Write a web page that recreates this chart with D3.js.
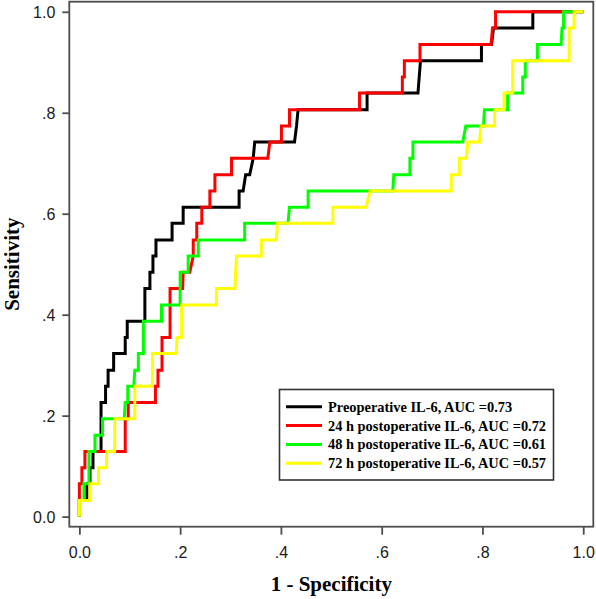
<!DOCTYPE html>
<html>
<head>
<meta charset="utf-8">
<script src="https://cdn.jsdelivr.net/npm/d3@7"></script>
<style>
  html, body { margin: 0; padding: 0; background: #fff; }
  svg { display: block; }
</style>
</head>
<body>
<div id="chart"></div>
<script>
// ---- data ----
const seriesNames = [
  "Preoperative IL-6, AUC =0.73",
  "24 h postoperative IL-6, AUC =0.72",
  "48 h postoperative IL-6, AUC =0.61",
  "72 h postoperative IL-6, AUC =0.57"
];
const seriesColors = ["#000000", "#ff0000", "#00ff00", "#ffff00"];

const preopFpr = [0,0,.015,.015,.021,.021,.027,.027,.043,.043,.052,.052,.057,.057,.068,.068,.091,.091,.095,.095,.130,.130,.140,.140,.146,.146,.152,.152,.184,.184,.206,.206,.317,.317,.325,.330,.338,.345,.348,.427,.431,.434,.571,.571,.672,.677,.798,.798,.818,.822,.900,.900,1];
const preopTpr = [0,.032,.032,.065,.065,.097,.097,.129,.129,.226,.226,.258,.258,.290,.290,.323,.323,.355,.355,.387,.387,.452,.452,.484,.484,.516,.516,.548,.548,.581,.581,.613,.613,.645,.645,.677,.677,.710,.742,.742,.774,.806,.806,.839,.839,.903,.903,.935,.935,.968,.968,1,1];

const h24Fpr = [0,0,.005,.005,.011,.011,.091,.091,.097,.097,.151,.151,.156,.156,.164,.164,.180,.180,.205,.206,.219,.226,.226,.233,.233,.243,.243,.259,.259,.269,.269,.302,.302,.374,.378,.401,.401,.417,.417,.556,.556,.641,.641,.645,.645,.676,.676,.817,.820,.826,.826,1];
const h24Tpr = [0,.065,.065,.097,.097,.129,.129,.194,.194,.226,.226,.258,.258,.290,.290,.355,.355,.452,.452,.484,.484,.516,.548,.548,.581,.581,.613,.613,.645,.645,.677,.677,.710,.710,.742,.742,.774,.774,.806,.806,.839,.839,.871,.871,.903,.903,.935,.935,.968,.968,1,1];

const h48Fpr = [0,0,.009,.009,.019,.019,.031,.031,.046,.046,.089,.091,.096,.096,.108,.110,.117,.117,.127,.127,.163,.163,.200,.200,.216,.216,.236,.236,.328,.328,.414,.417,.454,.454,.622,.624,.656,.656,.662,.662,.761,.767,.802,.804,.850,.850,.880,.880,.885,.885,.909,.909,.956,.958,.961,.961,1];
const h48Tpr = [0,.032,.032,.065,.065,.129,.129,.161,.161,.194,.194,.226,.226,.258,.258,.290,.290,.323,.323,.387,.387,.419,.419,.484,.484,.516,.516,.548,.548,.581,.581,.613,.613,.645,.645,.677,.677,.710,.710,.742,.742,.774,.774,.806,.806,.839,.839,.871,.871,.903,.903,.935,.935,.968,.968,1,1];

const h72Fpr = [0,0,.021,.021,.038,.038,.054,.054,.070,.070,.110,.110,.145,.145,.192,.194,.203,.203,.272,.272,.309,.310,.312,.361,.361,.391,.393,.503,.503,.569,.577,.738,.738,.754,.754,.768,.771,.794,.797,.824,.824,.843,.843,.860,.860,.972,.972,.982,.982,1];
const h72Tpr = [0,.032,.032,.065,.065,.097,.097,.129,.129,.194,.194,.258,.258,.323,.323,.355,.355,.419,.419,.452,.452,.484,.516,.516,.548,.548,.581,.581,.613,.613,.645,.645,.677,.677,.710,.710,.742,.742,.774,.774,.806,.806,.839,.839,.903,.903,.968,.968,1,1];

const tickValues = [0, 0.2, 0.4, 0.6, 0.8, 1.0];
const tickLabels = ["0.0", ".2", ".4", ".6", ".8", "1.0"];
const xTitle = "1 - Specificity";
const yTitle = "Sensitivity";

// ---- build ----
const W = 596, H = 599;
const svg = d3.select("#chart").append("svg").attr("width", W).attr("height", H);

const x = d3.scaleLinear().domain([-0.02, 1.02]).range([69.3, 593.3]);
const y = d3.scaleLinear().domain([-0.02, 1.02]).range([526.7, 1.7]);

const axisColor = "#4d4d4d";

// frame
svg.append("rect")
  .attr("x", x(-0.02)).attr("y", y(1.02))
  .attr("width", x(1.02) - x(-0.02)).attr("height", y(-0.02) - y(1.02))
  .attr("fill", "none").attr("stroke", axisColor).attr("stroke-width", 1.8);

// axes
const fmt = d => tickLabels[tickValues.findIndex(v => Math.abs(v - d) < 1e-9)];
const yAxis = svg.append("g").attr("transform", `translate(${x(-0.02)},0)`)
  .call(d3.axisLeft(y).tickValues(tickValues).tickFormat(fmt).tickSize(7).tickSizeOuter(0).tickPadding(7));
const xAxis = svg.append("g").attr("transform", `translate(0,${y(-0.02)})`)
  .call(d3.axisBottom(x).tickValues(tickValues).tickFormat(fmt).tickSize(8).tickSizeOuter(0).tickPadding(12));
[yAxis, xAxis].forEach(g => {
  g.select(".domain").remove();
  g.selectAll(".tick line").attr("stroke", axisColor).attr("stroke-width", 1.8);
  g.selectAll(".tick text").attr("fill", "#1a1a1a")
    .style("font-family", "'Liberation Sans', Arial, sans-serif").style("font-size", "16px");
});
yAxis.selectAll(".tick text").attr("dy", "0.36em");

// titles
svg.append("text").attr("x", (x(-0.02) + x(1.02)) / 2).attr("y", 591)
  .attr("text-anchor", "middle")
  .style("font-family", "'Liberation Serif', 'Times New Roman', serif")
  .style("font-weight", "bold").style("font-size", "21px").text(xTitle);
svg.append("text")
  .attr("transform", `translate(19,${(y(-0.02) + y(1.02)) / 2}) rotate(-90)`)
  .attr("text-anchor", "middle")
  .style("font-family", "'Liberation Serif', 'Times New Roman', serif")
  .style("font-weight", "bold").style("font-size", "21px").text(yTitle);

// curves
const series = [
  [preopFpr, preopTpr],
  [h24Fpr, h24Tpr],
  [h48Fpr, h48Tpr],
  [h72Fpr, h72Tpr]
];
const line = d3.line().x(d => x(d[0])).y(d => y(d[1]));
series.forEach((s, i) => {
  const pts = s[0].map((f, j) => [f, s[1][j]]);
  svg.append("path").datum(pts).attr("d", line)
    .attr("fill", "none").attr("stroke", seriesColors[i])
    .attr("stroke-width", 3).attr("stroke-linejoin", "miter");
});

// legend
const lg = svg.append("g");
lg.append("rect").attr("x", 279.5).attr("y", 389.5).attr("width", 274).attr("height", 90.5)
  .attr("fill", "#fff").attr("stroke", "#333").attr("stroke-width", 1.6);
const rowY = [406.7, 425.6, 444.4, 463.2];
seriesNames.forEach((nm, i) => {
  lg.append("line").attr("x1", 286).attr("x2", 322).attr("y1", rowY[i]).attr("y2", rowY[i])
    .attr("stroke", seriesColors[i]).attr("stroke-width", 3);
  lg.append("text").attr("x", 328).attr("y", rowY[i] + 5)
    .style("font-family", "'Liberation Serif', 'Times New Roman', serif")
    .style("font-weight", "bold").style("font-size", "14.4px").attr("fill", "#000").text(nm);
});
</script>
</body>
</html>
